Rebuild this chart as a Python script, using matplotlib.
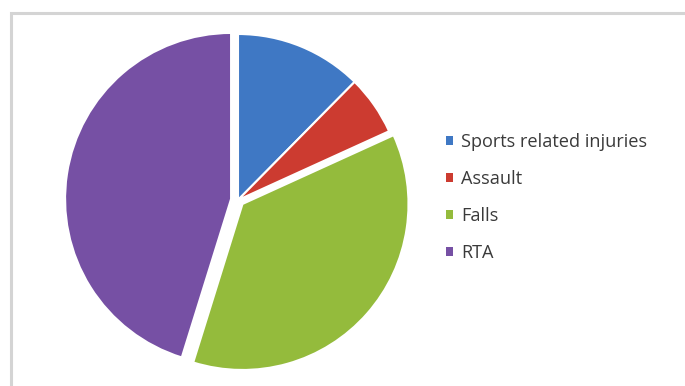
import matplotlib
matplotlib.use("Agg")
import matplotlib.pyplot as plt
from matplotlib.patches import Rectangle, Patch

# data (share of cases, %)
labels = ["Sports related injuries", "Assault", "Falls", "RTA"]
shares = [12.4, 5.8, 36.6, 45.2]
colors = ["#3f78c4", "#cc3b30", "#94bb3c", "#7650a4"]
explode = [0, 0, 6, 7]   # pixel offsets (pie explode is absolute, not relative)

W, H = 685, 386
fig = plt.figure(figsize=(W / 100, H / 100), dpi=100)
fig.patch.set_facecolor("white")

# light grey chart frame, running off the right and bottom edge
fig.add_artist(Rectangle((11 / W, -0.05), 1.2, 1 - 13 / H + 0.05,
                         transform=fig.transFigure, fill=False,
                         edgecolor="#d4d4d4", linewidth=2.2))

# pie axes: center at (238, 200) px, 360x360 px box
cx, cy, half = 238, 200, 180
ax = fig.add_axes([(cx - half) / W, (H - cy - half) / H, 2 * half / W, 2 * half / H])

wedges, _ = ax.pie(shares, colors=colors, explode=explode, radius=166,
                   startangle=90, counterclock=False,
                   wedgeprops=dict(edgecolor="white", linewidth=1.5))
# pie() resets the limits, so set them afterwards
ax.set_xlim(-half, half)
ax.set_ylim(-half, half)
ax.set_aspect("equal")
ax.axis("off")

plt.rcParams["font.family"] = ["Open Sans", "DejaVu Sans"]
handles = [Patch(facecolor=c, edgecolor="none") for c in colors]
fig.legend(handles, labels, loc="center left", bbox_to_anchor=(446 / W, 1 - 197.5 / H),
           frameon=False, fontsize=13.1, handlelength=0.4, handleheight=0.4,
           handletextpad=0.45, labelspacing=1.05, borderpad=0, borderaxespad=0,
           labelcolor="#3a3a3a")

fig.savefig("out.png", dpi=100)
